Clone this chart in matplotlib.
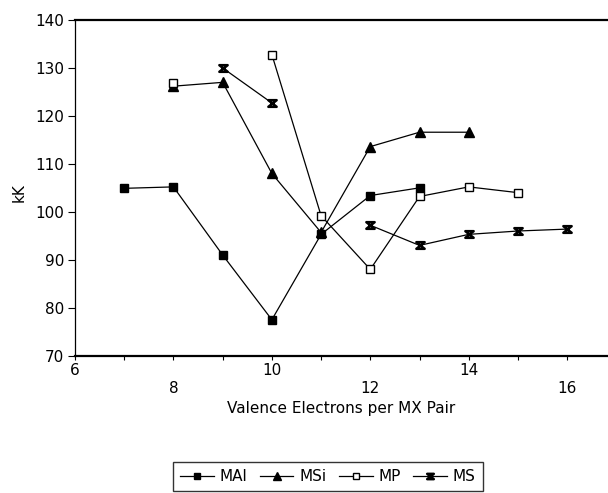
import numpy as np
import matplotlib
matplotlib.use("Agg")
import matplotlib.pyplot as plt
from matplotlib.path import Path

# valence electrons per MX pair
x = [7, 8, 9, 10, 11, 12, 13, 14, 15, 16]
nan = np.nan

# kK values (nan = no point / line break)
mal = [104.9, 105.2, 91.0, 77.5, 95.3, 103.4, 105.0, nan, nan, nan]
msi = [nan, 126.2, 127.0, 108.0, 95.7, 113.6, 116.6, 116.6, nan, nan]
mp = [nan, 126.8, nan, 132.8, 99.2, 88.0, 103.2, 105.2, 104.0, nan]
ms = [nan, nan, 130.0, 122.7, nan, 97.2, 93.0, 95.3, 96.0, 96.4]

series_names = ["MAl", "MSi", "MP", "MS"]

plt.rcParams['font.family'] = ['DejaVu Sans']

# hourglass marker for MS
hourglass = Path([(-1, 0.8), (1, 0.8), (-1, -0.8), (1, -0.8), (-1, 0.8)],
                 [Path.MOVETO, Path.LINETO, Path.LINETO, Path.LINETO, Path.CLOSEPOLY])

fig = plt.figure(figsize=(6.08, 4.93), dpi=100)
ax = fig.add_axes([75 / 608, 1 - 355.7 / 493, 1 - 75 / 608, (355.7 - 20) / 493])

lw = 0.9
ax.plot(x, mal, color='black', lw=lw, marker='s', ms=6, mfc='black', mec='black', label=series_names[0])
ax.plot(x, msi, color='black', lw=lw, marker='^', ms=7.5, mfc='black', mec='black', label=series_names[1])
ax.plot(x, mp, color='black', lw=lw, marker='s', ms=6, mfc='white', mec='black', mew=1.0, label=series_names[2])
ax.plot(x, ms, color='black', lw=lw, marker=hourglass, ms=6, mfc='white', mec='black', mew=1.8, label=series_names[3])

ax.set_xlim(6, 16.83)
ax.set_ylim(70, 140)

ticks = list(range(6, 17))
labels = []
for t in ticks:
    if t % 4 == 2:
        labels.append(str(t))
    elif t % 2 == 0:
        labels.append("\n" + str(t))
    else:
        labels.append("")
ax.set_xticks(ticks)
ax.set_xticklabels(labels, fontsize=11, linespacing=1.25)
ax.set_yticks(range(70, 141, 10))
ax.tick_params(axis='x', direction='out', length=3, width=0.8, pad=2)
ax.tick_params(axis='y', direction='out', length=5, width=0.8, labelsize=11, pad=3)

ax.spines['right'].set_visible(False)
ax.spines['top'].set_linewidth(1.6)
ax.spines['bottom'].set_linewidth(1.6)
ax.spines['left'].set_linewidth(0.9)

ax.set_xlabel("Valence Electrons per MX Pair", fontsize=11)
ax.xaxis.set_label_coords(0.5, -0.135)
fig.text(19 / 608, 1 - 193 / 493, "kK", rotation=90, ha='center', va='center', fontsize=11)

leg = fig.legend(loc='upper center', bbox_to_anchor=(328 / 608, 1 - 462 / 493), ncol=4,
                 frameon=True, fancybox=False, edgecolor='black', fontsize=11,
                 handlelength=2.2, columnspacing=0.8, handletextpad=0.4, borderpad=0.45,
                 borderaxespad=0, markerscale=0.8)
leg.get_frame().set_linewidth(1.0)

fig.savefig("out.png", dpi=100)
